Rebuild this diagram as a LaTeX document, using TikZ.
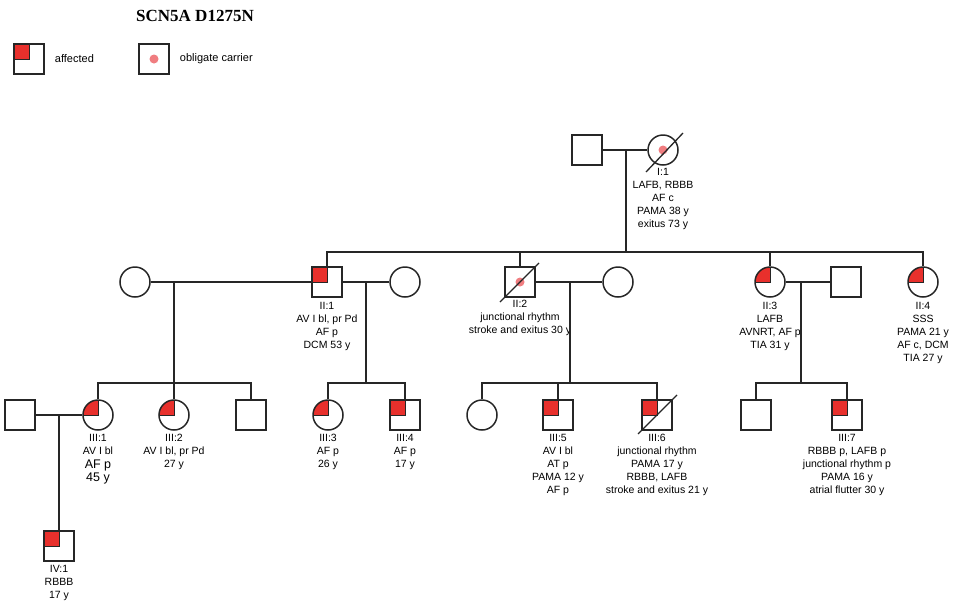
\documentclass[tikz,border=0pt]{standalone}
\usepackage{fontspec}
\setsansfont{Liberation Sans}
\newfontfamily\titlefont{Liberation Serif}
\usepackage{tikz}
\usetikzlibrary{positioning, calc}
\definecolor{affred}{RGB}{232,48,44}
\definecolor{carrierpink}{RGB}{240,125,128}
\begin{document}
\begin{tikzpicture}[
        x=1pt, y=-1pt,
        male/.style={rectangle, draw=black!85, line width=1.5pt, fill=white,
                     minimum size=30pt, inner sep=0pt},
        female/.style={circle, draw=black!85, line width=1.5pt, fill=white,
                       minimum size=30pt, inner sep=0pt},
        affected/.style={path picture={
            \fill[affred] (path picture bounding box.north west) rectangle (path picture bounding box.center);
            \draw[black!85, line width=1pt] (path picture bounding box.north) -- (path picture bounding box.center) -- (path picture bounding box.west);}},
        carrier/.style={path picture={
            \fill[carrierpink] (path picture bounding box.center) circle (4.5pt);}},
        pedline/.style={line width=1.5pt, black!85},
        slash/.style={line width=1.3pt, black!85},
        lbl/.style={font=\sffamily\fontsize{10.5}{13}\selectfont, align=center, inner sep=0pt},
        legend_txt/.style={font=\sffamily\fontsize{11}{13}\selectfont, inner sep=0pt}
    ]
    \useasboundingbox (0,0) rectangle (955,603);

    \node[font=\titlefont\bfseries\fontsize{17}{19}\selectfont] (title) at (195,16) {SCN5A D1275N};
    \node[male, affected] (leg_aff) at (29,59) {};
    \node[legend_txt, right=10pt of leg_aff] (leg_aff_txt) {affected};
    \node[male, carrier] (leg_car) at (154,59) {};
    \node[legend_txt, right=10pt of leg_car] (leg_car_txt) {obligate carrier};

    % generation I
    \node[male] (I0) at (587,150) {};
    \node[female, carrier] (I1) at (663,150) {};
    \node[lbl, below=2pt of I1] (I1_lbl) {I:1\\LAFB, RBBB\\AF c\\PAMA 38 y\\exitus 73 y};

    % generation II
    \node[female] (II1_sp) at (135,282) {};
    \node[male, affected] (II1) at (327,282) {};
    \node[female] (II1_sp2) at (405,282) {};
    \node[male, carrier] (II2) at (520,282) {};
    \node[female] (II2_sp) at (618,282) {};
    \node[female, affected] (II3) at (770,282) {};
    \node[male] (II3_sp) at (846,282) {};
    \node[female, affected] (II4) at (923,282) {};
    \node[lbl, below=4pt of II1] (II1_lbl) {II:1\\AV I bl, pr Pd\\AF p\\DCM 53 y};
    \node[lbl, below=2pt of II2] (II2_lbl) {II:2\\junctional rhythm\\stroke and exitus 30 y};
    \node[lbl, below=4pt of II3] (II3_lbl) {II:3\\LAFB\\AVNRT, AF p\\TIA 31 y};
    \node[lbl, below=4pt of II4] (II4_lbl) {II:4\\SSS\\PAMA 21 y\\AF c, DCM\\TIA 27 y};

    % generation III
    \node[male] (III1_sp) at (20,415) {};
    \node[female, affected] (III1) at (98,415) {};
    \node[female, affected] (III2) at (174,415) {};
    \node[male] (III2b) at (251,415) {};
    \node[female, affected] (III3) at (328,415) {};
    \node[male, affected] (III4) at (405,415) {};
    \node[female] (III4b) at (482,415) {};
    \node[male, affected] (III5) at (558,415) {};
    \node[male, affected] (III6) at (657,415) {};
    \node[male] (III6b) at (756,415) {};
    \node[male, affected] (III7) at (847,415) {};
    \node[lbl, below=3pt of III1] (III1_lbl) {III:1\\AV I bl\\[1pt]{\fontsize{12.5}{16}\selectfont AF p}\\{\fontsize{12.5}{16}\selectfont 45 y}};
    \node[lbl, below=3pt of III2] (III2_lbl) {III:2\\AV I bl, pr Pd\\27 y};
    \node[lbl, below=3pt of III3] (III3_lbl) {III:3\\AF p\\26 y};
    \node[lbl, below=3pt of III4] (III4_lbl) {III:4\\AF p\\17 y};
    \node[lbl, below=3pt of III5] (III5_lbl) {III:5\\AV I bl\\AT p\\PAMA 12 y\\AF p};
    \node[lbl, below=3pt of III6] (III6_lbl) {III:6\\junctional rhythm\\PAMA 17 y\\RBBB, LAFB\\stroke and exitus 21 y};
    \node[lbl, below=3pt of III7] (III7_lbl) {III:7\\RBBB p, LAFB p\\junctional rhythm p\\PAMA 16 y\\atrial flutter 30 y};

    % generation IV
    \node[male, affected] (IV1) at (59,546) {};
    \node[lbl, below=3pt of IV1] (IV1_lbl) {IV:1\\RBBB\\17 y};

    % deceased
    \draw[slash] (I1.center) ++(-17,22) -- ++(37,-39);
    \draw[slash] (II2.center) ++(-20,20) -- ++(39,-39);
    \draw[slash] (III6.center) ++(-19,19) -- ++(39,-39);

    % lines of descent
    \coordinate (m_I) at (626,150);
    \coordinate (s_II) at (626,252);
    \draw[pedline] (I0) -- (I1);
    \draw[pedline] (m_I) -- (s_II);
    \draw[pedline] (II1) |- (s_II) -| (II4);
    \draw[pedline] (II2) -- (II2 |- s_II);
    \draw[pedline] (II3) -- (II3 |- s_II);

    \coordinate (m_1) at (174,282);
    \coordinate (s_1) at (174,383);
    \draw[pedline] (II1_sp) -- (II1);
    \draw[pedline] (m_1) -- (s_1);
    \draw[pedline] (III1) |- (s_1) -| (III2b);
    \draw[pedline] (III2) -- (s_1);

    \coordinate (m_2) at (366,282);
    \coordinate (s_2) at (366,383);
    \draw[pedline] (II1) -- (II1_sp2);
    \draw[pedline] (m_2) -- (s_2);
    \draw[pedline] (III3) |- (s_2) -| (III4);

    \coordinate (m_3) at (570,282);
    \coordinate (s_3) at (570,383);
    \draw[pedline] (II2) -- (II2_sp);
    \draw[pedline] (m_3) -- (s_3);
    \draw[pedline] (III4b) |- (s_3) -| (III6);
    \draw[pedline] (III5) -- (III5 |- s_3);

    \coordinate (m_4) at (801,282);
    \coordinate (s_4) at (801,383);
    \draw[pedline] (II3) -- (II3_sp);
    \draw[pedline] (m_4) -- (s_4);
    \draw[pedline] (III6b) |- (s_4) -| (III7);

    \coordinate (m_5) at (59,415);
    \draw[pedline] (III1_sp) -- (III1);
    \draw[pedline] (m_5) -- (IV1);
\end{tikzpicture}
\end{document}
